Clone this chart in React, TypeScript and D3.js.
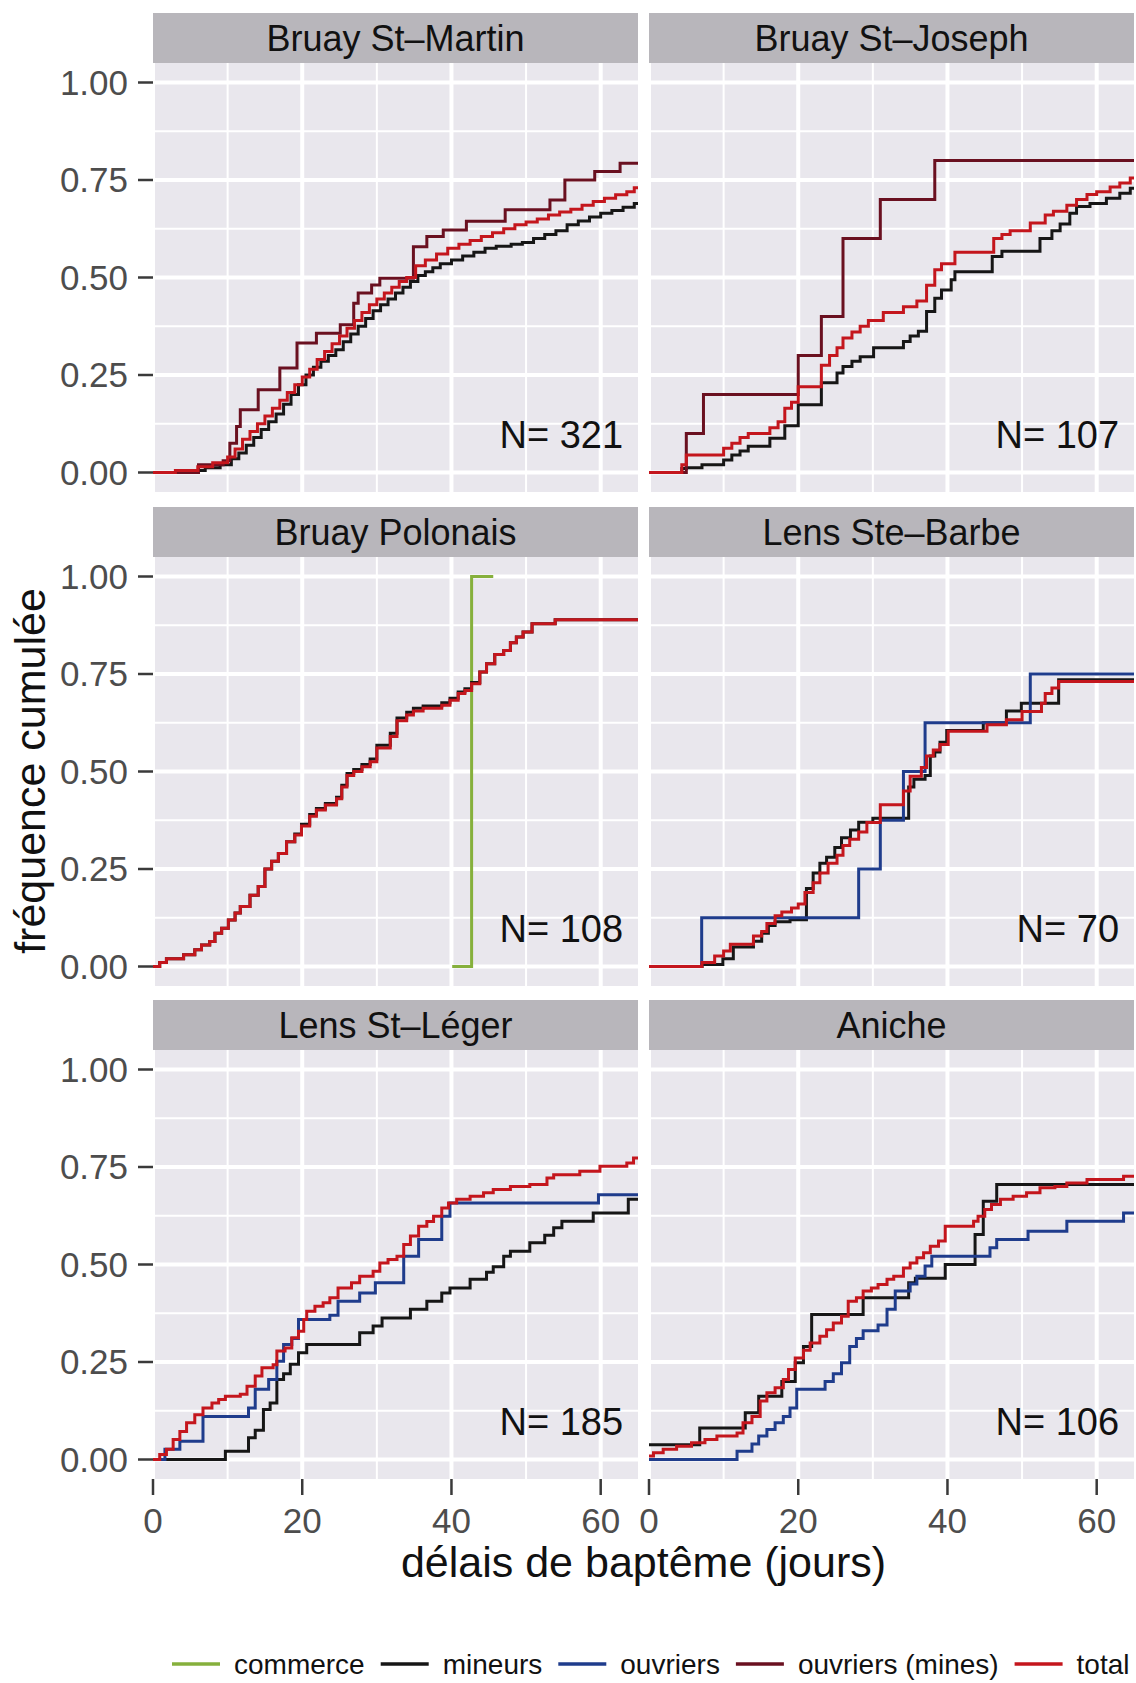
import React, { useEffect, useRef } from "react";
import * as d3 from "d3";

type Pt = [number, number];

// ---------- data ----------
const panelNames = ["Bruay St–Martin", "Bruay St–Joseph", "Bruay Polonais", "Lens Ste–Barbe", "Lens St–Léger", "Aniche"];
const panelN = [321, 107, 108, 70, 185, 106];
const seriesNames = ["commerce", "mineurs", "ouvriers", "ouvriers (mines)", "total"];
const seriesColors = ["#86b03c", "#161616", "#1f3c8c", "#6a1020", "#c4161d"];
const xTicks = [0, 20, 40, 60];
const xMinor = [10, 30, 50];
const yTicks = [0, 0.25, 0.5, 0.75, 1];
const yMinor = [0.125, 0.375, 0.625, 0.875];
const yTickLabels = ["0.00", "0.25", "0.50", "0.75", "1.00"];
const xTitle = "délais de baptême (jours)";
const yTitle = "fréquence cumulée";

// Bruay St-Martin
const martinMineurs: Pt[] = [[0,0],[4.5,0.005],[7,0.012],[9,0.02],[10.5,0.035],[11.5,0.05],[12.5,0.07],[13.5,0.09],[14.5,0.11],[15.5,0.13],[16.5,0.15],[17.5,0.175],[18.5,0.2],[19.5,0.225],[20.5,0.25],[21.5,0.27],[22.5,0.285],[23.5,0.3],[24.5,0.315],[25.5,0.335],[26.5,0.355],[27.5,0.375],[28.5,0.395],[29.5,0.415],[30.5,0.43],[31.5,0.445],[32.5,0.46],[33.5,0.475],[34.5,0.49],[35.5,0.505],[36.5,0.515],[37.5,0.525],[38.5,0.535],[40,0.545],[41.5,0.555],[43,0.565],[44.5,0.575],[46,0.58],[48,0.585],[49.5,0.59],[51,0.6],[52.5,0.61],[54,0.62],[55.5,0.635],[57,0.645],[58.5,0.655],[60,0.665],[61.5,0.672],[63,0.68],[64.5,0.69]];
const martinMines: Pt[] = [[0,0],[6.1,0.02],[9.4,0.03],[10.3,0.075],[11.2,0.118],[11.7,0.161],[14.1,0.212],[17,0.268],[19.3,0.332],[21.9,0.357],[25.1,0.379],[26.9,0.434],[27.5,0.46],[29.3,0.481],[30.4,0.498],[34.9,0.579],[36.7,0.605],[38.9,0.622],[42,0.644],[47.2,0.674],[53.2,0.699],[55.2,0.75],[59.2,0.772],[62.6,0.793]];
const martinTotal: Pt[] = [[0,0],[3,0.005],[6,0.015],[8,0.025],[10,0.04],[11,0.06],[12,0.085],[13,0.105],[14,0.125],[15,0.145],[16,0.165],[17,0.185],[18,0.205],[19,0.225],[20,0.245],[21,0.265],[22,0.29],[23,0.31],[24,0.33],[25,0.35],[26,0.37],[27,0.39],[28,0.41],[29,0.43],[30,0.445],[31,0.46],[32,0.475],[33,0.49],[34,0.5],[35.2,0.53],[36.5,0.545],[38,0.56],[39.5,0.575],[41,0.585],[42.5,0.595],[44,0.605],[45.5,0.615],[47,0.625],[48.5,0.635],[50,0.642],[51.5,0.65],[53,0.66],[54.5,0.668],[56,0.675],[57.5,0.685],[59,0.695],[60.5,0.703],[62,0.712],[63.5,0.72],[64.5,0.73]];

// Bruay St-Joseph
const josephMineurs: Pt[] = [[0,0],[4.4,0.01],[5,0.012],[7.1,0.02],[10,0.032],[11.1,0.045],[12.2,0.055],[13.3,0.067],[16.2,0.088],[18.2,0.12],[20,0.174],[23.1,0.23],[25.2,0.255],[26,0.272],[27.2,0.285],[28.3,0.297],[30.1,0.32],[34.1,0.336],[35,0.35],[36.1,0.362],[37.2,0.413],[38.3,0.447],[39.2,0.468],[40.5,0.494],[41,0.515],[46,0.554],[47.3,0.567],[52.4,0.6],[54,0.62],[55.1,0.637],[56.4,0.665],[57.3,0.682],[59.1,0.69],[61.3,0.703],[63.1,0.716],[64.5,0.729]];
const josephMines: Pt[] = [[0,0],[5,0.1],[7.3,0.2],[20,0.3],[23.1,0.4],[26,0.6],[31,0.7],[38.3,0.8]];
const josephTotal: Pt[] = [[0,0],[4.4,0.02],[5,0.045],[10,0.062],[11.1,0.075],[12.2,0.09],[13.3,0.1],[16.2,0.115],[17.3,0.13],[18.2,0.165],[19.1,0.18],[20,0.22],[23.1,0.275],[24.2,0.3],[25.2,0.32],[26,0.345],[27.2,0.36],[28.3,0.375],[29.4,0.39],[31.4,0.41],[34.1,0.425],[35.9,0.44],[37.2,0.48],[38.3,0.52],[39.2,0.535],[41,0.565],[46.2,0.6],[47.3,0.61],[48.4,0.62],[51.1,0.64],[53.1,0.66],[54.2,0.67],[56,0.685],[57.3,0.7],[58.7,0.713],[60,0.72],[61.8,0.732],[63.1,0.742],[64.5,0.755]];

// Bruay Polonais
const polCommerce: Pt[] = [[40.3,0],[42.7,1],[45.4,1]];
const polMineurs: Pt[] = [[0,0],[0.9,0.01],[1.8,0.02],[4.1,0.03],[5.6,0.043],[6.5,0.055],[7.6,0.064],[8.3,0.085],[9.2,0.098],[10.1,0.119],[11,0.137],[11.7,0.154],[13,0.183],[14.1,0.205],[15,0.25],[15.9,0.27],[16.8,0.29],[17.9,0.32],[19,0.34],[19.9,0.365],[21,0.39],[21.9,0.405],[23.1,0.418],[24.6,0.434],[25.3,0.465],[26,0.495],[26.9,0.505],[28,0.518],[29.1,0.532],[30,0.567],[31.8,0.598],[32.7,0.637],[34,0.652],[34.9,0.662],[36.2,0.668],[38.7,0.676],[39.8,0.688],[40.9,0.704],[41.8,0.712],[42.7,0.728],[43.8,0.755],[44.7,0.776],[45.8,0.8],[47,0.81],[47.9,0.83],[48.7,0.845],[49.6,0.858],[50.8,0.879],[53.9,0.889]];
const polTotal: Pt[] = [[0,0],[0.9,0.01],[1.8,0.02],[4.1,0.03],[5.6,0.043],[6.5,0.055],[7.6,0.064],[8.3,0.085],[9.2,0.098],[10.1,0.119],[11,0.137],[11.7,0.154],[13,0.183],[14.1,0.205],[15,0.25],[15.9,0.27],[16.8,0.29],[17.9,0.32],[19,0.337],[19.9,0.36],[21,0.385],[21.9,0.401],[23.1,0.414],[24.6,0.43],[25.3,0.46],[26,0.49],[26.9,0.5],[28,0.512],[29.1,0.525],[30,0.56],[31.8,0.59],[32.7,0.63],[34,0.645],[34.9,0.655],[36.2,0.662],[38.7,0.67],[39.8,0.683],[40.9,0.7],[41.8,0.708],[42.7,0.725],[43.8,0.755],[44.7,0.776],[45.8,0.8],[47,0.81],[47.9,0.83],[48.7,0.845],[49.6,0.858],[50.8,0.879],[53.9,0.889]];

// Lens Ste-Barbe
const barbeMineurs: Pt[] = [[0,0],[7.1,0.005],[9.9,0.02],[11.3,0.05],[14,0.065],[15.1,0.085],[16,0.105],[16.9,0.115],[18.9,0.12],[21.1,0.2],[22,0.24],[22.9,0.265],[23.8,0.28],[24.9,0.305],[25.8,0.33],[27,0.35],[28.1,0.37],[30,0.38],[34.8,0.46],[35.5,0.48],[37,0.49],[37.7,0.54],[38.3,0.55],[39,0.575],[39.9,0.605],[44.8,0.625],[47.9,0.655],[49.9,0.675],[54.9,0.735]];
const barbeOuvriers: Pt[] = [[0,0],[7.06,0.125],[28.1,0.25],[31,0.375],[34.1,0.5],[37,0.625],[51.1,0.75]];
const barbeTotal: Pt[] = [[0,0],[7.1,0.01],[8.8,0.027],[10,0.04],[10.9,0.057],[14,0.078],[15.1,0.09],[15.8,0.11],[16.9,0.13],[17.8,0.14],[19.1,0.15],[20,0.16],[20.9,0.19],[22,0.215],[22.9,0.24],[24,0.265],[25.2,0.285],[26,0.31],[26.9,0.326],[28.1,0.345],[29.2,0.369],[31,0.415],[34.1,0.45],[35,0.488],[36.5,0.51],[37.2,0.54],[38.1,0.555],[39,0.569],[40.1,0.603],[45.3,0.62],[47.9,0.633],[50,0.654],[52.6,0.675],[53.1,0.7],[54,0.714],[54.9,0.731]];

// Lens St-Leger
const legerMineurs: Pt[] = [[0,0],[9.7,0.021],[12.8,0.056],[13.7,0.075],[14.8,0.128],[15.7,0.145],[16.6,0.205],[17.5,0.22],[18.4,0.244],[19.5,0.274],[20.6,0.295],[27.7,0.325],[29.5,0.342],[30.7,0.363],[34.5,0.385],[36.7,0.406],[38.7,0.427],[39.8,0.44],[42.5,0.462],[44.7,0.48],[45.6,0.494],[47,0.521],[47.9,0.534],[50.5,0.556],[52.5,0.575],[53.7,0.594],[54.8,0.611],[59,0.632],[63.7,0.667]];
const legerOuvriers: Pt[] = [[0,0],[1.6,0.026],[3.6,0.047],[6.7,0.11],[12.8,0.132],[13.7,0.18],[15.5,0.205],[16.6,0.252],[17.5,0.295],[18.6,0.31],[19.5,0.359],[23.7,0.37],[24.8,0.406],[27.7,0.427],[29.8,0.453],[33.6,0.521],[35.6,0.564],[38.7,0.624],[39.8,0.658],[59.7,0.679]];
const legerTotal: Pt[] = [[0,0],[0.9,0.013],[1.8,0.026],[2.7,0.051],[3.6,0.072],[4.5,0.094],[5.6,0.115],[6.7,0.132],[7.9,0.145],[8.8,0.154],[9.7,0.162],[11.7,0.167],[12.6,0.188],[13.7,0.214],[14.6,0.235],[16.1,0.243],[16.6,0.278],[17.7,0.286],[18.6,0.312],[19.5,0.329],[20.2,0.359],[20.6,0.38],[21.7,0.393],[22.8,0.402],[23.7,0.415],[24.8,0.44],[26.6,0.453],[27.7,0.47],[29.5,0.483],[30.4,0.504],[31.5,0.513],[32.7,0.521],[33.6,0.551],[34.5,0.573],[35.6,0.598],[36.7,0.61],[37.6,0.624],[38.7,0.645],[39.6,0.658],[40.7,0.667],[42.5,0.675],[44.3,0.684],[45.6,0.692],[47.9,0.7],[50.5,0.705],[52.8,0.722],[53.7,0.73],[57.2,0.739],[59.9,0.752],[63.5,0.76],[64.4,0.773]];

// Aniche
const anicheMineurs: Pt[] = [[0,0.038],[6.8,0.081],[12.9,0.12],[14.7,0.162],[17.8,0.2],[19.6,0.248],[20.7,0.29],[21.8,0.372],[28.7,0.415],[34.8,0.453],[35.7,0.465],[39.7,0.5],[43.7,0.577],[44.8,0.662],[46.6,0.705]];
const anicheOuvriers: Pt[] = [[0,0],[11.8,0.021],[13.8,0.04],[14.7,0.06],[15.8,0.077],[16.9,0.094],[18,0.11],[18.9,0.132],[19.8,0.18],[23.6,0.2],[24.7,0.22],[25.8,0.248],[26.9,0.29],[27.8,0.31],[28.7,0.33],[30.7,0.345],[31.9,0.385],[33,0.432],[35,0.45],[35.9,0.47],[37,0.496],[37.9,0.521],[45.7,0.543],[46.6,0.564],[50.8,0.585],[56,0.611],[63.6,0.632]];
const anicheTotal: Pt[] = [[0,0.009],[0.6,0.017],[1.9,0.026],[3.7,0.034],[5.7,0.043],[7.5,0.051],[9.1,0.06],[11.8,0.068],[12.6,0.094],[13.8,0.11],[14.9,0.15],[15.8,0.171],[16.9,0.184],[18,0.205],[18.7,0.231],[19.6,0.26],[20.7,0.28],[21.6,0.299],[22.9,0.316],[23.8,0.333],[24.7,0.35],[25.8,0.367],[26.7,0.406],[27.8,0.415],[28.7,0.432],[29.8,0.44],[30.7,0.449],[31.9,0.462],[32.8,0.47],[34.1,0.491],[35,0.504],[35.9,0.517],[36.8,0.53],[37.7,0.547],[38.8,0.56],[39.7,0.598],[43.5,0.611],[44.1,0.624],[45,0.641],[45.9,0.654],[47.1,0.667],[48.8,0.675],[50.6,0.684],[52.4,0.697],[54.4,0.7],[56,0.709],[58.7,0.718],[63.6,0.726]];

// series per panel, in series order (index into seriesNames)
const panelSeries: { s: number; pts: Pt[] }[][] = [
  [{ s: 1, pts: martinMineurs }, { s: 3, pts: martinMines }, { s: 4, pts: martinTotal }],
  [{ s: 1, pts: josephMineurs }, { s: 3, pts: josephMines }, { s: 4, pts: josephTotal }],
  [{ s: 0, pts: polCommerce }, { s: 1, pts: polMineurs }, { s: 4, pts: polTotal }],
  [{ s: 1, pts: barbeMineurs }, { s: 2, pts: barbeOuvriers }, { s: 4, pts: barbeTotal }],
  [{ s: 1, pts: legerMineurs }, { s: 2, pts: legerOuvriers }, { s: 4, pts: legerTotal }],
  [{ s: 1, pts: anicheMineurs }, { s: 2, pts: anicheOuvriers }, { s: 4, pts: anicheTotal }],
];

// ---------- layout ----------
const W = 1136, H = 1683;
const XMAX = 65;
const COL_X = [153, 649];
const PW = 485;
const ROW_Y = [63, 557, 1050];
const PH = 429;
const STRIP_H = 50;
const FONT = "'Liberation Sans', Arial, Helvetica, sans-serif";
const PANEL_BG = "#e9e7ed";
const STRIP_BG = "#b8b6bb";

export default function App() {
  const ref = useRef<SVGSVGElement>(null);
  useEffect(() => {
    const svg = d3.select(ref.current!);
    svg.selectAll("*").remove();
    svg.append("rect").attr("width", W).attr("height", H).attr("fill", "#ffffff");
    const defs = svg.append("defs");

    panelNames.forEach((name, i) => {
      const col = i % 2, row = Math.floor(i / 2);
      const x0 = COL_X[col], y0 = ROW_Y[row];
      const x = d3.scaleLinear().domain([0, XMAX]).range([x0, x0 + PW]);
      const y = d3.scaleLinear().domain([-0.05, 1.05]).range([y0 + PH, y0]);
      const g = svg.append("g");

      // strip
      g.append("rect").attr("x", x0).attr("y", y0 - STRIP_H).attr("width", PW).attr("height", STRIP_H).attr("fill", STRIP_BG);
      g.append("text").attr("x", x0 + PW / 2).attr("y", y0 - 12).attr("text-anchor", "middle")
        .attr("font-family", FONT).attr("font-size", 36).attr("fill", "#111").text(name);

      // panel
      g.append("rect").attr("x", x0).attr("y", y0).attr("width", PW).attr("height", PH).attr("fill", PANEL_BG);
      xMinor.forEach(v => g.append("line").attr("x1", x(v)).attr("x2", x(v)).attr("y1", y0).attr("y2", y0 + PH).attr("stroke", "#fff").attr("stroke-width", 2));
      yMinor.forEach(v => g.append("line").attr("x1", x0).attr("x2", x0 + PW).attr("y1", y(v)).attr("y2", y(v)).attr("stroke", "#fff").attr("stroke-width", 2));
      xTicks.forEach(v => g.append("line").attr("x1", x(v)).attr("x2", x(v)).attr("y1", y0).attr("y2", y0 + PH).attr("stroke", "#fff").attr("stroke-width", 4));
      yTicks.forEach(v => g.append("line").attr("x1", x0).attr("x2", x0 + PW).attr("y1", y(v)).attr("y2", y(v)).attr("stroke", "#fff").attr("stroke-width", 4));

      const cid = "clip" + i;
      defs.append("clipPath").attr("id", cid).append("rect").attr("x", x0).attr("y", y0).attr("width", PW).attr("height", PH);
      const lg = g.append("g").attr("clip-path", `url(#${cid})`);
      const line = d3.line<Pt>().x(d => x(d[0])).y(d => y(d[1])).curve(d3.curveStepAfter);
      panelSeries[i].forEach(({ s, pts }) => {
        const data: Pt[] = s === 0 ? pts : [...pts, [XMAX, pts[pts.length - 1][1]]];
        lg.append("path").attr("d", line(data)!).attr("fill", "none").attr("stroke", seriesColors[s])
          .attr("stroke-width", 3).attr("stroke-linejoin", "miter").attr("stroke-linecap", "square");
      });

      g.append("text").attr("x", x(63)).attr("y", y(0.064)).attr("text-anchor", "end")
        .attr("font-family", FONT).attr("font-size", 38).attr("fill", "#111").text("N= " + panelN[i]);

      // y axis (left column)
      if (col === 0) {
        yTicks.forEach((v, k) => {
          g.append("line").attr("x1", x0 - 15).attr("x2", x0).attr("y1", y(v)).attr("y2", y(v)).attr("stroke", "#3a3a3a").attr("stroke-width", 2.5);
          g.append("text").attr("x", x0 - 25).attr("y", y(v) + 12).attr("text-anchor", "end")
            .attr("font-family", FONT).attr("font-size", 35).attr("fill", "#4d4d4d").text(yTickLabels[k]);
        });
      }
      // x axis (bottom row)
      if (row === 2) {
        xTicks.forEach(v => {
          g.append("line").attr("x1", x(v)).attr("x2", x(v)).attr("y1", y0 + PH).attr("y2", y0 + PH + 16).attr("stroke", "#3a3a3a").attr("stroke-width", 2.5);
          g.append("text").attr("x", x(v)).attr("y", y0 + PH + 54).attr("text-anchor", "middle")
            .attr("font-family", FONT).attr("font-size", 35).attr("fill", "#4d4d4d").text(String(v));
        });
      }
    });

    // axis titles
    svg.append("text").attr("x", (COL_X[0] + COL_X[1] + PW) / 2).attr("y", 1577).attr("text-anchor", "middle")
      .attr("font-family", FONT).attr("font-size", 43).attr("fill", "#111").text(xTitle);
    const yc = (ROW_Y[0] + ROW_Y[2] + PH) / 2;
    svg.append("text").attr("transform", `translate(45,${yc}) rotate(-90)`).attr("text-anchor", "middle")
      .attr("font-family", FONT).attr("font-size", 43).attr("fill", "#111").text(yTitle);

    // legend
    let lx = 172;
    const ly = 1664;
    seriesNames.forEach((nm, k) => {
      svg.append("line").attr("x1", lx).attr("x2", lx + 48).attr("y1", ly).attr("y2", ly)
        .attr("stroke", seriesColors[k]).attr("stroke-width", 3.5);
      const t = svg.append("text").attr("x", lx + 62).attr("y", ly + 10).attr("font-family", FONT)
        .attr("font-size", 28).attr("fill", "#111").text(nm);
      const tw = (t.node() as SVGTextElement).getComputedTextLength();
      lx = lx + 62 + tw + 16;
    });
  }, []);

  return (
    <svg ref={ref} width={W} height={H} viewBox={`0 0 ${W} ${H}`}
      style={{ position: "absolute", left: 0, top: 0, display: "block" }} />
  );
}
